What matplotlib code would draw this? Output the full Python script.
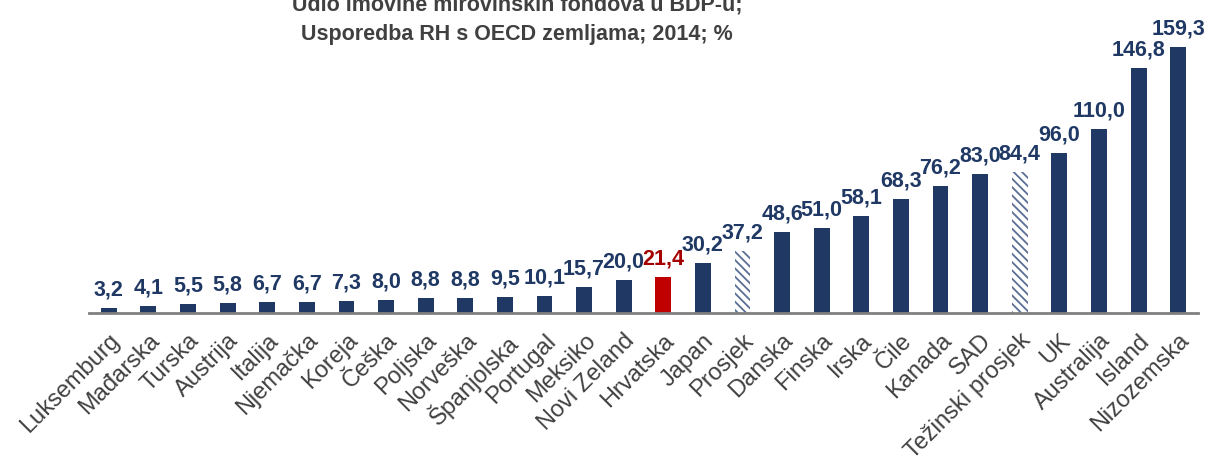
import numpy as np
import matplotlib.pyplot as plt

plt.rcParams['font.family'] = ['Liberation Sans', 'DejaVu Sans']
plt.rcParams['hatch.linewidth'] = 1.3

# data
countries = ['Luksemburg', 'Mađarska', 'Turska', 'Austrija', 'Italija', 'Njemačka',
             'Koreja', 'Češka', 'Poljska', 'Norveška', 'Španjolska', 'Portugal',
             'Meksiko', 'Novi Zeland', 'Hrvatska', 'Japan', 'Prosjek', 'Danska',
             'Finska', 'Irska', 'Čile', 'Kanada', 'SAD', 'Težinski prosjek', 'UK',
             'Australija', 'Island', 'Nizozemska']
values = [3.2, 4.1, 5.5, 5.8, 6.7, 6.7, 7.3, 8.0, 8.8, 8.8, 9.5, 10.1, 15.7, 20.0,
          21.4, 30.2, 37.2, 48.6, 51.0, 58.1, 68.3, 76.2, 83.0, 84.4, 96.0, 110.0,
          146.8, 159.3]
highlight = 'Hrvatska'
averages = ['Prosjek', 'Težinski prosjek']

navy = '#1F3864'
red = '#C00000'
grey = '#404040'

fig = plt.figure(figsize=(12.06, 4.66), dpi=100)
ax = fig.add_axes([89 / 1206, 153 / 466, 1109 / 1206, 284 / 466])

x = np.arange(len(countries))
for i, (c, v) in enumerate(zip(countries, values)):
    if c in averages:
        ax.bar(i, v, width=0.4, facecolor='white', edgecolor='#5A6E96',
               hatch='\\\\\\\\', linewidth=0)
    else:
        ax.bar(i, v, width=0.4, color=red if c == highlight else navy)
    lbl = f'{v:.1f}'.replace('.', ',')
    ax.text(i, v + 4.5, lbl, ha='center', va='bottom', fontsize=15.5,
            fontweight='bold', color='#A50000' if c == highlight else navy)

ax.set_xlim(-0.5, len(countries) - 0.5)
ax.set_ylim(0, 170)
ax.set_xticks(x)
ax.set_xticklabels(countries, rotation=45, ha='right', rotation_mode='anchor',
                   fontsize=17, color=grey)
ax.tick_params(axis='x', length=0, pad=12)
ax.set_yticks([])
for s in ['top', 'right', 'left']:
    ax.spines[s].set_visible(False)
ax.spines['bottom'].set_color('#808080')
ax.spines['bottom'].set_linewidth(2)

fig.text(517 / 1206, 1 - 20 / 466, 'Udio imovine mirovinskih fondova u BDP-u;\nUsporedba RH s OECD zemljama; 2014; %',
         ha='center', va='center', fontsize=15.5, fontweight='bold', color=grey,
         linespacing=1.5)

fig.savefig('out.png', dpi=100)
